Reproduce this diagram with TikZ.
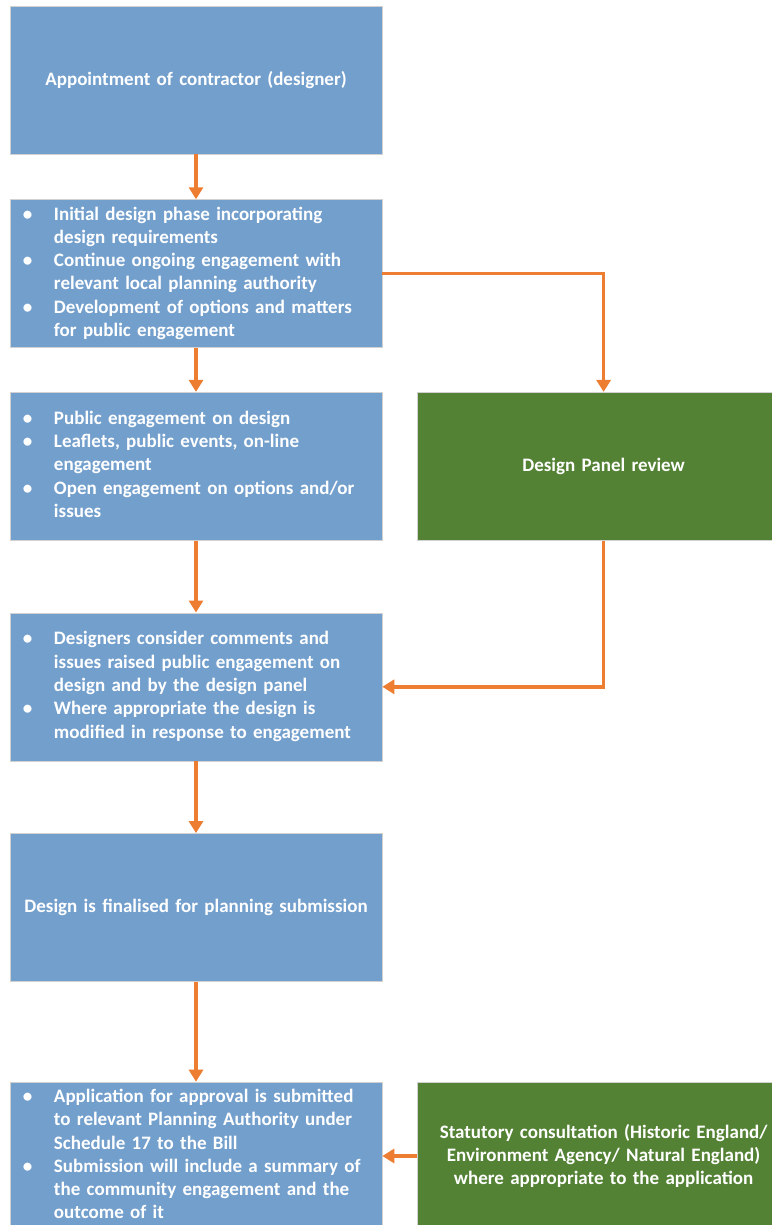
\documentclass[tikz,border=0pt]{standalone}
\usepackage{fontspec}
\setmainfont{Carlito}
\usepackage{array}
\usetikzlibrary{arrows.meta, positioning}

\definecolor{stepblue}{RGB}{115,159,205}
\definecolor{panelgreen}{RGB}{84,130,53}
\definecolor{floworange}{RGB}{237,125,49}

% bullet list laid out like the original (bullet column + text column)
\newcommand{\blist}[1]{\begin{tabular}{@{}p{31pt}@{}p{315pt}@{}}#1\end{tabular}}

\begin{document}
\begin{tikzpicture}[
  x=1pt, y=-1pt,
  box/.style={
    draw=black!18,
    line width=0.6pt,
    fill=stepblue,
    text=white,
    font=\fontsize{19}{23.3}\selectfont\bfseries,
    minimum width=372pt,
    minimum height=148pt,
    text width=346pt,
    inner xsep=13pt,
    inner ysep=0pt,
    align=center
  },
  review/.style={box, fill=panelgreen},
  arr/.style={-{Triangle[length=12pt, width=14pt]}, line width=3.5pt, draw=floworange},
  node distance=45pt
]
\useasboundingbox (0,0) rectangle (771,1225);

% Main column
\node[box] (appoint) at (196,80) {Appointment of contractor (designer)};

\node[box, below=of appoint] (initial) {\blist{%
  \textbullet & Initial design phase incorporating\\
              & design requirements\\
  \textbullet & Continue ongoing engagement with\\
              & relevant local planning authority\\
  \textbullet & Development of options and matters\\
              & for public engagement}};

\node[box, below=44pt of initial] (public) {\blist{%
  \textbullet & Public engagement on design\\
  \textbullet & Leaflets, public events, on-line\\
              & engagement\\
  \textbullet & Open engagement on options and/or\\
              & issues}};

\node[box, below=72pt of public] (consider) {\blist{%
  \textbullet & Designers consider comments and\\
              & issues raised public engagement on\\
              & design and by the design panel\\
  \textbullet & Where appropriate the design is\\
              & modified in response to engagement}};

\node[box, below=72pt of consider] (final) {Design is finalised for planning submission};

\node[box, below=100pt of final] (submit) {\blist{%
  \textbullet & Application for approval is submitted\\
              & to relevant Planning Authority under\\
              & Schedule 17 to the Bill\\
  \textbullet & Submission will include a summary of\\
              & the community engagement and the\\
              & outcome of it}};

% Side boxes
\node[review, right=35pt of public] (panel) {Design Panel review};
\node[review, right=35pt of submit] (statutory) {Statutory consultation (Historic England/\\ Environment Agency/ Natural England)\\ where appropriate to the application};

% Arrows
\draw[arr] (appoint) -- (initial);
\draw[arr] (initial) -- (public);
\draw[arr] (public) -- (consider);
\draw[arr] (consider) -- (final);
\draw[arr] (final) -- (submit);
\draw[arr] (initial.east) -| (panel.north);
\draw[arr] (panel.south) |- (consider.east);
\draw[arr] (statutory) -- (submit);

\end{tikzpicture}
\end{document}
